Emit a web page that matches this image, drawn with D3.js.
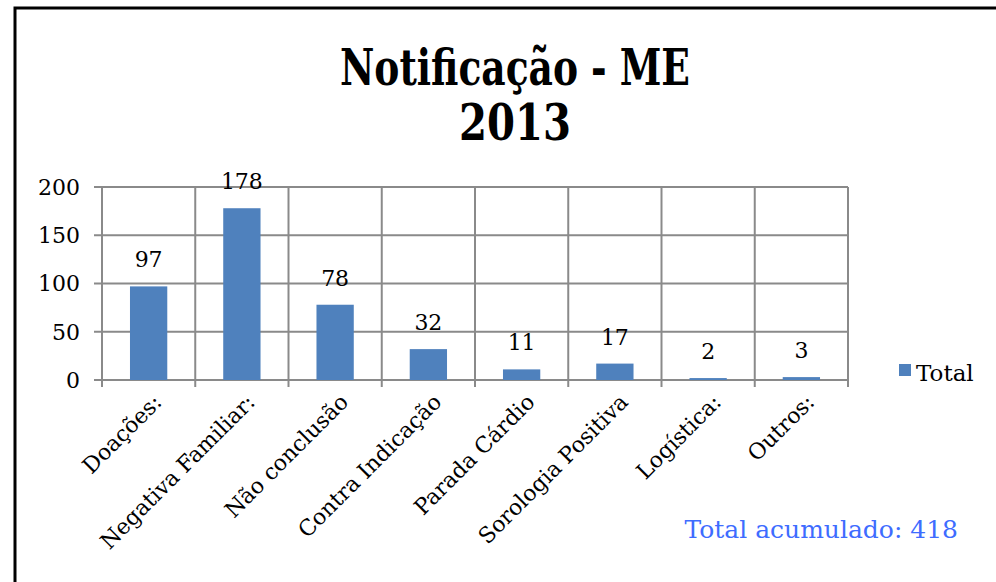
<!DOCTYPE html>
<html>
<head>
<meta charset="utf-8">
<script src="https://cdn.jsdelivr.net/npm/d3@7"></script>
<style>
  body { margin: 0; background: #fff; }
  text { font-family: "DejaVu Serif", "Liberation Serif", serif; }
  text.title { font-family: "DejaVu Serif Condensed", "DejaVu Serif", serif; }
</style>
</head>
<body>
<div id="chart"></div>
<script>
// chart values
var categories = ["Doações:", "Negativa Familiar:", "Não conclusão", "Contra Indicação",
                  "Parada Cárdio", "Sorologia Positiva", "Logística:", "Outros:"];
var totals = [97, 178, 78, 32, 11, 17, 2, 3];
var yTicks = [0, 50, 100, 150, 200];
var seriesName = "Total";
var titleLines = ["Notificação - ME", "2013"];
var footNote = "Total acumulado: 418";

var W = 996, H = 582;
var margin = { top: 187, left: 102, right: 148, bottom: 202 };
var width = W - margin.left - margin.right;
var height = H - margin.top - margin.bottom;

var svg = d3.select("#chart").append("svg")
    .attr("width", W)
    .attr("height", H);

// frame (left + top edges visible)
svg.append("path")
    .attr("d", "M15," + H + " L15,8 L" + W + ",8")
    .attr("fill", "none")
    .attr("stroke", "#000")
    .attr("stroke-width", 3);

// title
svg.append("text")
    .attr("class", "title")
    .attr("x", 515).attr("y", 85)
    .attr("text-anchor", "middle")
    .style("font-size", "50px").style("font-weight", "bold")
    .attr("textLength", 350).attr("lengthAdjust", "spacingAndGlyphs")
    .text(titleLines[0]);
svg.append("text")
    .attr("class", "title")
    .attr("x", 515).attr("y", 140)
    .attr("text-anchor", "middle")
    .style("font-size", "50px").style("font-weight", "bold")
    .attr("textLength", 112).attr("lengthAdjust", "spacingAndGlyphs")
    .text(titleLines[1]);

var g = svg.append("g")
    .attr("transform", "translate(" + margin.left + "," + margin.top + ")");

var x = d3.scaleBand().domain(categories).range([0, width]).paddingInner(0).paddingOuter(0);
var y = d3.scaleLinear().domain([0, 200]).range([height, 0]);

var gridColor = "#8a8a8a";

// horizontal gridlines
g.selectAll(".hgrid").data(yTicks).enter().append("line")
    .attr("class", "hgrid")
    .attr("x1", -8).attr("x2", width)
    .attr("y1", d => y(d)).attr("y2", d => y(d))
    .attr("stroke", gridColor).attr("stroke-width", 2);

// vertical gridlines at band boundaries
var bounds = categories.map(c => x(c)).concat([width]);
g.selectAll(".vgrid").data(bounds).enter().append("line")
    .attr("class", "vgrid")
    .attr("x1", d => d).attr("x2", d => d)
    .attr("y1", 0).attr("y2", height + 7)
    .attr("stroke", gridColor).attr("stroke-width", 2);

// y tick labels
g.selectAll(".ylab").data(yTicks).enter().append("text")
    .attr("class", "ylab")
    .attr("x", -22).attr("y", d => y(d))
    .attr("dy", "0.36em")
    .attr("text-anchor", "end")
    .style("font-size", "22px")
    .text(d => d);

// bars
var barW = x.bandwidth() * 0.4;
g.selectAll(".bar").data(totals).enter().append("rect")
    .attr("class", "bar")
    .attr("x", (d, i) => x(categories[i]) + (x.bandwidth() - barW) / 2)
    .attr("y", d => y(d))
    .attr("width", barW)
    .attr("height", d => height - y(d))
    .attr("fill", "#4f81bd");

// value labels
g.selectAll(".val").data(totals).enter().append("text")
    .attr("class", "val")
    .attr("x", (d, i) => x(categories[i]) + x.bandwidth() / 2)
    .attr("y", d => y(d) - 19)
    .attr("text-anchor", "middle")
    .style("font-size", "22px")
    .text(d => d);

// category labels, rotated
g.selectAll(".cat").data(categories).enter().append("text")
    .attr("class", "cat")
    .attr("transform", d => "translate(" + (x(d) + x.bandwidth() / 2 + 9) + "," + (height + 18) + ") rotate(-45)")
    .attr("text-anchor", "end")
    .attr("dy", "0.35em")
    .style("font-size", "22px")
    .text(d => d);

// legend
svg.append("rect")
    .attr("x", 899).attr("y", 364)
    .attr("width", 12).attr("height", 12)
    .attr("fill", "#4f81bd");
svg.append("text")
    .attr("x", 916).attr("y", 381)
    .style("font-size", "23px")
    .text(seriesName);

// footnote
svg.append("text")
    .attr("x", 958).attr("y", 538)
    .attr("text-anchor", "end")
    .style("font-size", "25px")
    .attr("fill", "#3e6cff")
    .text(footNote);
</script>
</body>
</html>
